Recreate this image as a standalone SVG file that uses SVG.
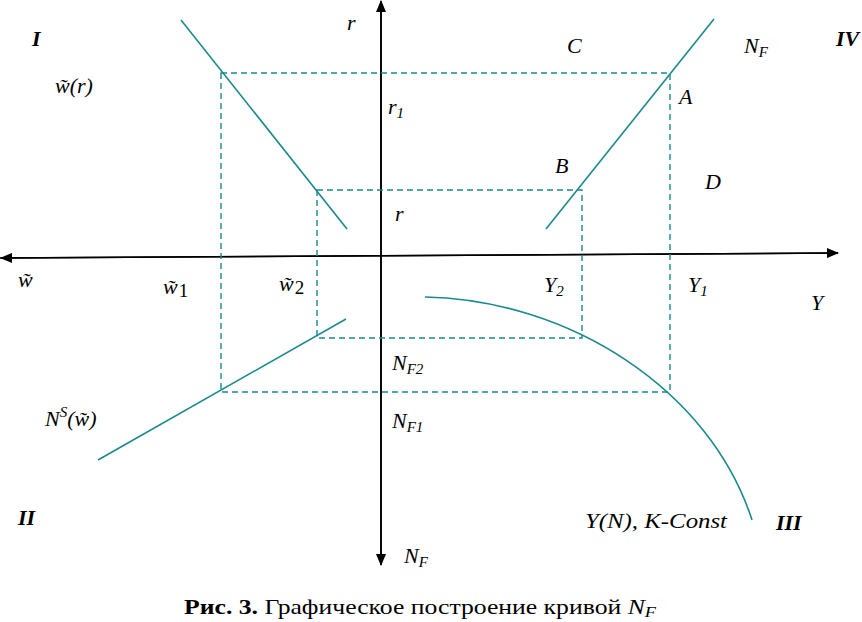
<svg xmlns="http://www.w3.org/2000/svg" width="862" height="622" viewBox="0 0 862 622">
<defs>
<marker id="ah" markerWidth="12" markerHeight="10" refX="11" refY="5" orient="auto" markerUnits="userSpaceOnUse">
<path d="M0,0 L12,5 L0,10 z" fill="#000"/>
</marker>
<style>
.ax{stroke:#000;stroke-width:1.6;fill:none}
.cv{stroke:#1a8a8c;stroke-width:1.6;fill:none}
.ds{stroke:#1a8a8c;stroke-width:1.4;fill:none;stroke-dasharray:6 4}
.t{font-family:'Liberation Serif','Times New Roman',serif;font-size:22px;font-style:italic;fill:#000}
.q{font-weight:bold}
.sb{font-size:15px}
.cap{font-style:normal;font-size:21px}
</style>
</defs>
<g id="connectors">
<line class="ax" x1="381" y1="565" x2="381" y2="1" marker-end="url(#ah)"/>
<line class="ax" x1="381" y1="5" x2="381" y2="565" marker-end="url(#ah)"/>
<line class="ax" x1="0" y1="258" x2="838" y2="253" marker-end="url(#ah)"/>
<line class="ax" x1="838" y1="253" x2="1" y2="258" marker-end="url(#ah)"/>
<path class="ds" d="M221,73 H670 V392 H221 Z"/>
<path class="ds" d="M317,190 H582 V338 H317 Z"/>
</g>
<g id="curve-I"><line class="cv" x1="181" y1="20" x2="347" y2="229"/></g>
<g id="curve-IV"><line class="cv" x1="546" y1="229" x2="714" y2="19"/></g>
<g id="curve-II"><line class="cv" x1="98" y1="460" x2="346" y2="319"/></g>
<g id="curve-III"><path class="cv" d="M425,297 C570,300 710,390 752,520"/></g>
<g id="labels" class="t">
<text class="t q" x="32" y="46">I</text>
<text class="t q" x="836" y="46">IV</text>
<text class="t q" x="18" y="525">II</text>
<text class="t q" x="776" y="530">III</text>
<text class="t" x="55" y="93">w̃(r)</text>
<text class="t" x="347" y="30">r</text>
<text class="t" x="388" y="114">r<tspan class="sb" dy="4">1</tspan></text>
<text class="t" x="567" y="53">C</text>
<text class="t" x="744" y="53">N<tspan class="sb" dy="4">F</tspan></text>
<text class="t" x="679" y="104">A</text>
<text class="t" x="555" y="173">B</text>
<text class="t" x="705" y="189">D</text>
<text class="t" x="395" y="221">r</text>
<text class="t" x="18" y="287">w̃</text>
<text class="t" x="163" y="294">w̃<tspan font-style="normal" font-size="19" dx="1" dy="3">1</tspan></text>
<text class="t" x="279" y="291">w̃<tspan font-style="normal" font-size="19" dx="1" dy="3">2</tspan></text>
<text class="t" x="544" y="292">Y<tspan class="sb" dy="4">2</tspan></text>
<text class="t" x="688" y="292">Y<tspan class="sb" dy="4">1</tspan></text>
<text class="t" x="811" y="310">Y</text>
<text class="t" x="392" y="370">N<tspan class="sb" dy="4">F2</tspan></text>
<text class="t" x="392" y="428">N<tspan class="sb" dy="4">F1</tspan></text>
<text class="t" x="45" y="426">N<tspan class="sb" dy="-9">S</tspan><tspan dy="9">(w̃)</tspan></text>
<text class="t" x="585" y="528" textLength="142" lengthAdjust="spacingAndGlyphs">Y(N), K-Const</text>
<text class="t" x="404" y="563">N<tspan class="sb" dy="4">F</tspan></text>
<text class="t cap" x="184" y="614" textLength="472" lengthAdjust="spacingAndGlyphs"><tspan font-weight="bold">Рис. 3.</tspan> Графическое построение кривой <tspan font-style="italic">N</tspan><tspan font-style="italic" font-size="15" dy="3">F</tspan></text>
</g>
</svg>
